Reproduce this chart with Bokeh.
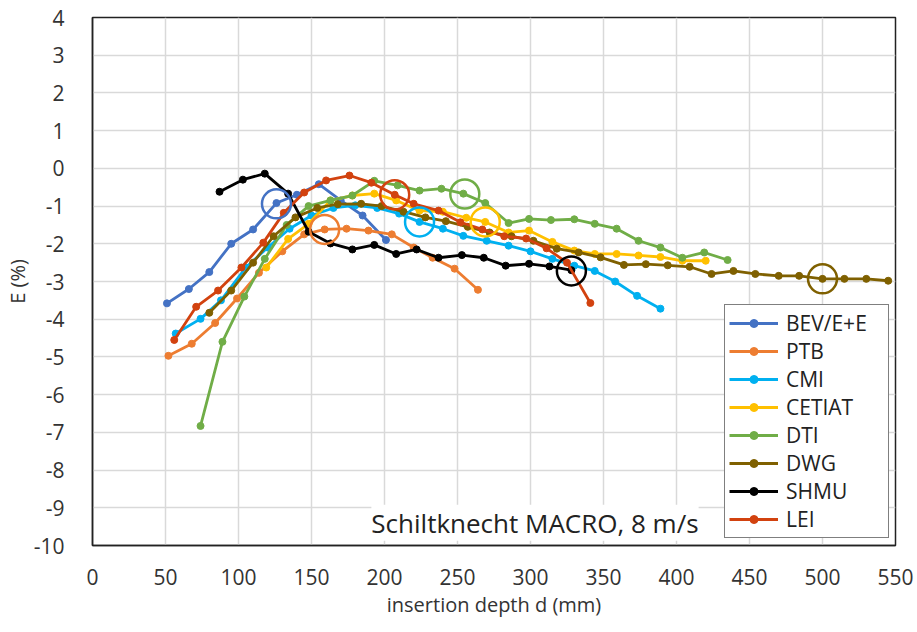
from bokeh.plotting import figure
from bokeh.models import FixedTicker, Legend, LegendItem, Label, PrintfTickFormatter
from bokeh.embed import file_html
from bokeh.resources import INLINE

# ---- data ----
bev_x = [51, 66, 80, 95, 110, 126, 140, 155, 170, 185, 201]
bev_y = [-3.58, -3.2, -2.75, -2.0, -1.62, -0.92, -0.7, -0.42, -0.85, -1.25, -1.9]

ptb_x = [52, 68, 84, 99, 114, 130, 145, 159, 174, 189, 205, 220, 233, 248, 264]
ptb_y = [-4.97, -4.65, -4.1, -3.45, -2.77, -2.2, -1.75, -1.62, -1.6, -1.65, -1.75, -2.1, -2.37, -2.66, -3.22]

cmi_x = [57, 74, 88, 105, 120, 135, 150, 165, 180, 195, 210, 224, 240, 254, 270, 285, 300, 315, 330, 344, 358, 373, 389]
cmi_y = [-4.38, -3.99, -3.5, -2.63, -2.1, -1.6, -1.25, -1.05, -0.98, -1.05, -1.2, -1.42, -1.6, -1.79, -1.92, -2.05, -2.2, -2.4, -2.58, -2.72, -3.0, -3.38, -3.72]

cetiat_x = [119, 134, 148, 163, 178, 193, 208, 224, 240, 256, 269, 285, 299, 315, 330, 344, 359, 374, 389, 404, 420]
cetiat_y = [-2.63, -1.87, -1.47, -0.85, -0.72, -0.67, -0.85, -1.12, -1.15, -1.31, -1.42, -1.7, -1.65, -1.95, -2.18, -2.27, -2.27, -2.31, -2.35, -2.45, -2.45]

dti_x = [74, 89, 104, 118, 133, 148, 163, 178, 193, 209, 224, 239, 254, 269, 285, 299, 314, 330, 344, 359, 374, 389, 404, 419, 435]
dti_y = [-6.83, -4.6, -3.4, -2.4, -1.5, -1.0, -0.85, -0.72, -0.33, -0.45, -0.59, -0.54, -0.67, -0.92, -1.45, -1.34, -1.37, -1.35, -1.47, -1.6, -1.92, -2.1, -2.37, -2.23, -2.43]

dwg_x = [80, 95, 110, 124, 139, 154, 168, 184, 198, 213, 228, 242, 257, 272, 287, 302, 318, 333, 348, 364, 379, 394, 409, 424, 439, 454, 470, 484, 500, 515, 530, 545]
dwg_y = [-3.83, -3.24, -2.5, -1.8, -1.3, -1.05, -0.95, -0.94, -1.0, -1.15, -1.3, -1.4, -1.55, -1.7, -1.8, -1.92, -2.13, -2.23, -2.36, -2.56, -2.54, -2.57, -2.61, -2.8, -2.72, -2.8, -2.85, -2.85, -2.93, -2.93, -2.93, -2.98]

shmu_x = [87, 103, 118, 134, 148, 163, 178, 193, 208, 222, 237, 253, 268, 283, 299, 313, 328]
shmu_y = [-0.62, -0.3, -0.14, -0.67, -1.68, -1.99, -2.15, -2.03, -2.27, -2.15, -2.37, -2.3, -2.37, -2.58, -2.53, -2.6, -2.7]

lei_x = [56, 71, 86, 102, 117, 131, 145, 160, 176, 191, 207, 220, 237, 252, 267, 282, 297, 311, 325, 341]
lei_y = [-4.55, -3.67, -3.24, -2.63, -1.97, -1.18, -0.64, -0.32, -0.19, -0.38, -0.7, -0.94, -1.12, -1.43, -1.62, -1.8, -1.86, -2.12, -2.5, -3.57]

# highlighted (circled) points per series
ring_x = [126, 159, 224, 269, 255, 500, 328, 207]
ring_y = [-0.94, -1.62, -1.42, -1.42, -0.68, -2.93, -2.72, -0.7]

names = ["BEV/E+E", "PTB", "CMI", "CETIAT", "DTI", "DWG", "SHMU", "LEI"]
colors = ["#4472C4", "#ED7D31", "#00B0F0", "#FFC000", "#70AD47", "#7F6000", "#000000", "#D2420F"]
xs = [bev_x, ptb_x, cmi_x, cetiat_x, dti_x, dwg_x, shmu_x, lei_x]
ys = [bev_y, ptb_y, cmi_y, cetiat_y, dti_y, dwg_y, shmu_y, lei_y]

x_ticks = list(range(0, 551, 50))
y_ticks = list(range(-10, 5))

FONT = "Open Sans"
TXT = "#333333"

p = figure(width=917, height=632, x_range=(0, 550), y_range=(-10, 4),
           output_backend="svg", toolbar_location=None,
           min_border_left=92, min_border_right=22, min_border_top=17, min_border_bottom=87,
           background_fill_color="white", border_fill_color="white")

p.outline_line_color = "#222222"
p.outline_line_width = 1.5

p.xaxis.ticker = FixedTicker(ticks=x_ticks)
p.yaxis.ticker = FixedTicker(ticks=y_ticks)
p.xaxis.formatter = PrintfTickFormatter(format="%d")
p.yaxis.formatter = PrintfTickFormatter(format="%d")
for ax in (p.xaxis[0], p.yaxis[0]):
    ax.major_tick_line_color = None
    ax.minor_tick_line_color = None
    ax.axis_line_color = "#222222"
    ax.axis_line_width = 1.5
    ax.major_label_text_font = FONT
    ax.major_label_text_font_size = "21px"
    ax.major_label_text_color = TXT
    ax.axis_label_text_font = FONT
    ax.axis_label_text_font_size = "20px"
    ax.axis_label_text_font_style = "normal"
    ax.axis_label_text_color = TXT

p.xaxis.axis_label = "insertion depth d (mm)"
p.yaxis.axis_label = "E (%)"
p.xaxis.major_label_standoff = 17
p.yaxis.major_label_standoff = 22
p.xaxis.axis_label_standoff = 3
p.yaxis.axis_label_standoff = 0

p.xgrid.grid_line_color = "#D9D9D9"
p.ygrid.grid_line_color = "#D9D9D9"
p.xgrid.grid_line_width = 1.5
p.ygrid.grid_line_width = 1.5

items = []
for name, c, x, y in zip(names, colors, xs, ys):
    r1 = p.line(x, y, line_color=c, line_width=2.8)
    r2 = p.scatter(x, y, marker="circle", size=7, fill_color=c, line_color=c)
    items.append(LegendItem(label=name, renderers=[r1, r2]))

for i, c in enumerate(colors):
    p.scatter([ring_x[i]], [ring_y[i]], marker="circle", size=29,
              fill_alpha=0, line_color=c, line_width=2.5)

legend = Legend(items=items, location=(632, 7))
legend.border_line_color = "black"
legend.border_line_width = 1.5
legend.background_fill_color = "white"
legend.background_fill_alpha = 1
legend.label_text_font = FONT
legend.label_text_font_size = "21px"
legend.label_text_color = "#222222"
legend.glyph_width = 49
legend.glyph_height = 20
legend.label_height = 20
legend.label_width = 98
legend.label_standoff = 8
legend.spacing = 0
legend.padding = 4
legend.margin = 0
p.add_layout(legend, "center")

lbl = Label(x=191, y=-9.4, text="Schiltknecht MACRO, 8 m/s", text_font=FONT,
            text_font_size="26px", text_color="#222222", text_baseline="middle",
            background_fill_color="white", background_fill_alpha=1)
p.add_layout(lbl)

open("out.html", "w").write(file_html(p, INLINE))
